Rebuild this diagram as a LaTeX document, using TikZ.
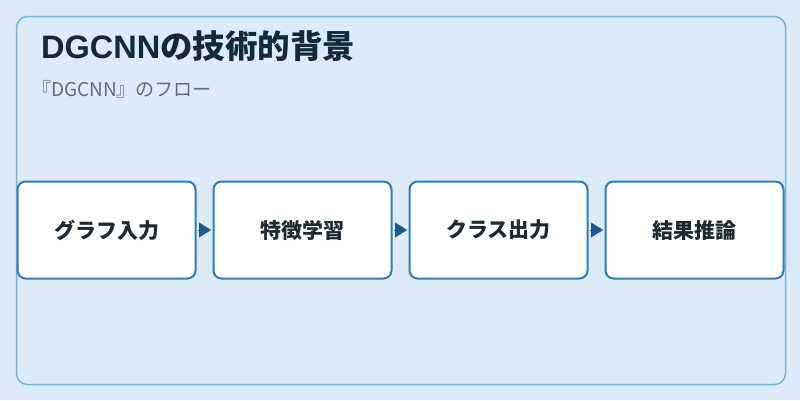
\documentclass[tikz,border=0pt]{standalone}
\usepackage{fontspec}
\setmainfont{Noto Sans CJK JP}
\newfontfamily\latinbold{Liberation Sans}
\usetikzlibrary{arrows.meta}
\definecolor{bgc}{HTML}{DCEBF7}
\definecolor{panelc}{HTML}{7BB3D6}
\definecolor{boxc}{HTML}{2E7FB6}
\definecolor{arrc}{HTML}{1D5A8C}
\definecolor{titlec}{HTML}{15293A}
\definecolor{subc}{HTML}{5B6E80}
\definecolor{textc}{HTML}{1E2A33}
\tikzset{
  stepbox/.style={draw=boxc, line width=2pt, fill=white, rounded corners=8pt,
    minimum width=178pt, minimum height=97pt, inner sep=0pt,
    font=\fontsize{21}{25}\selectfont\bfseries, text=textc},
  flowarrow/.style={draw=arrc, line width=0.1pt, -{Triangle[length=12pt,width=15pt]}, fill=arrc, shorten >=1.5pt, shorten <=1.5pt}
}
\begin{document}
\begin{tikzpicture}[x=1pt,y=-1pt]
\useasboundingbox (0,0) rectangle (800,400);
\fill[bgc] (0,0) rectangle (800,400);
\draw[panelc, line width=1.5pt, rounded corners=11pt] (16.5,16.5) rectangle (785.5,384.5);
\node[anchor=base west, font=\fontsize{32.5}{36}\selectfont\bfseries, text=titlec, inner sep=0pt] (title) at (41,58.5) {{\latinbold\bfseries DGCNN}の技術的背景};
\node[anchor=base west, font=\fontsize{19}{23}\selectfont, text=subc, inner sep=0pt] (sub) at (32,96.5) {『DGCNN』のフロー};
\node[stepbox] (b1) at (106.5,230) {グラフ入力};
\node[stepbox] (b2) at (302.5,230) {特徴学習};
\node[stepbox] (b3) at (498.5,230) {クラス出力};
\node[stepbox] (b4) at (694.5,230) {結果推論};
\draw[flowarrow] (b1.east) -- (b2.west);
\draw[flowarrow] (b2.east) -- (b3.west);
\draw[flowarrow] (b3.east) -- (b4.west);
\end{tikzpicture}
\end{document}
